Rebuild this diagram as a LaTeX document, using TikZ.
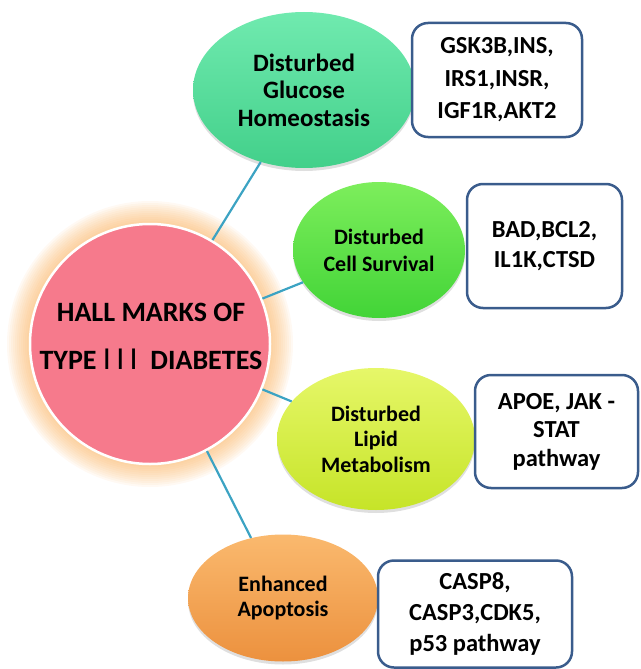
\documentclass[tikz,border=0pt]{standalone}
\usepackage{fontspec}
\setmainfont{Carlito}
\usetikzlibrary{shapes.geometric,shadows}
\definecolor{pinkc}{RGB}{246,122,140}
\definecolor{glowc}{RGB}{250,175,90}
\definecolor{linec}{RGB}{60,163,195}
\definecolor{boxc}{RGB}{58,92,140}
\definecolor{gluT}{RGB}{112,234,175}
\definecolor{gluB}{RGB}{66,208,138}
\definecolor{celT}{RGB}{125,238,92}
\definecolor{celB}{RGB}{66,212,55}
\definecolor{lipT}{RGB}{230,247,105}
\definecolor{lipB}{RGB}{198,228,40}
\definecolor{apoT}{RGB}{250,185,110}
\definecolor{apoB}{RGB}{236,145,62}
\begin{document}
\begin{tikzpicture}[x=1pt,y=-1pt,
  ell/.style={ellipse, inner sep=0pt, align=center,
    font=\bfseries\fontsize{22}{25.5}\selectfont,
    drop shadow={shadow xshift=0pt, shadow yshift=-3pt, opacity=0.25}},
  genebox/.style={draw=boxc, line width=2.5pt, rounded corners=16pt, fill=white,
    align=center, inner sep=0pt, font=\bfseries\fontsize{24.5}{31}\selectfont},
  conn/.style={draw=linec, line width=2.2pt}]
\useasboundingbox (0,0) rectangle (640,669);
% glow
\foreach \r in {121,123,...,143} {
  \fill[glowc, opacity=0.07] (150,344) circle (\r);
}
% main circle
\node[circle, minimum size=240pt, fill=pinkc, draw=white, line width=2.5pt, inner sep=0pt] (main) at (150,344) {};
\node[align=center, font=\bfseries\fontsize{28}{48}\selectfont] (maintxt) at (151,336)
  {HALL MARKS OF\\TYPE {\fontseries{m}\fontsize{32}{48}\selectfont I\,I\,I}\ \ DIABETES};
% ellipses
\node[ell, minimum width=222pt, minimum height=156pt, top color=gluT, bottom color=gluB,
  font=\bfseries\fontsize{25}{27.5}\selectfont] (glu) at (304,90)
  {Disturbed\\Glucose\\Homeostasis};
\node[ell, minimum width=172pt, minimum height=136pt, top color=celT, bottom color=celB,
  font=\bfseries\fontsize{22}{27}\selectfont] (cell) at (379,250)
  {Disturbed\\Cell Survival};
\node[ell, minimum width=198pt, minimum height=142pt, top color=lipT, bottom color=lipB] (lip) at (376,439)
  {Disturbed\\Lipid\\Metabolism};
\node[ell, minimum width=190pt, minimum height=127pt, top color=apoT, bottom color=apoB] (apo) at (283,598)
  {Enhanced\\Apoptosis};
% boxes
\node[genebox, minimum width=170pt, minimum height=114pt, font=\bfseries\fontsize{24.5}{32.5}\selectfont] (b1) at (497,80)
  {GSK3B,INS,\\IRS1,INSR,\\IGF1R,AKT2};
\node[genebox, minimum width=155pt, minimum height=124pt, font=\bfseries\fontsize{24.5}{30}\selectfont] (b2) at (544.5,246)
  {BAD,BCL2,\\IL1K,CTSD};
\node[genebox, minimum width=163pt, minimum height=113pt, font=\bfseries\fontsize{24.5}{28.5}\selectfont] (b3) at (556.5,431.5)
  {APOE, JAK -\\STAT\\pathway};
\node[genebox, minimum width=194pt, minimum height=107pt, font=\bfseries\fontsize{24.5}{31}\selectfont] (b4) at (475,614)
  {CASP8,\\CASP3,CDK5,\\p53 pathway};
% connectors
\draw[conn] (main.59) -- (glu.239);
\draw[conn] (main.22) -- (cell.203);
\draw[conn] (main.-22) -- (lip.156);
\draw[conn] (main.-62) -- (apo.118);
\end{tikzpicture}
\end{document}
